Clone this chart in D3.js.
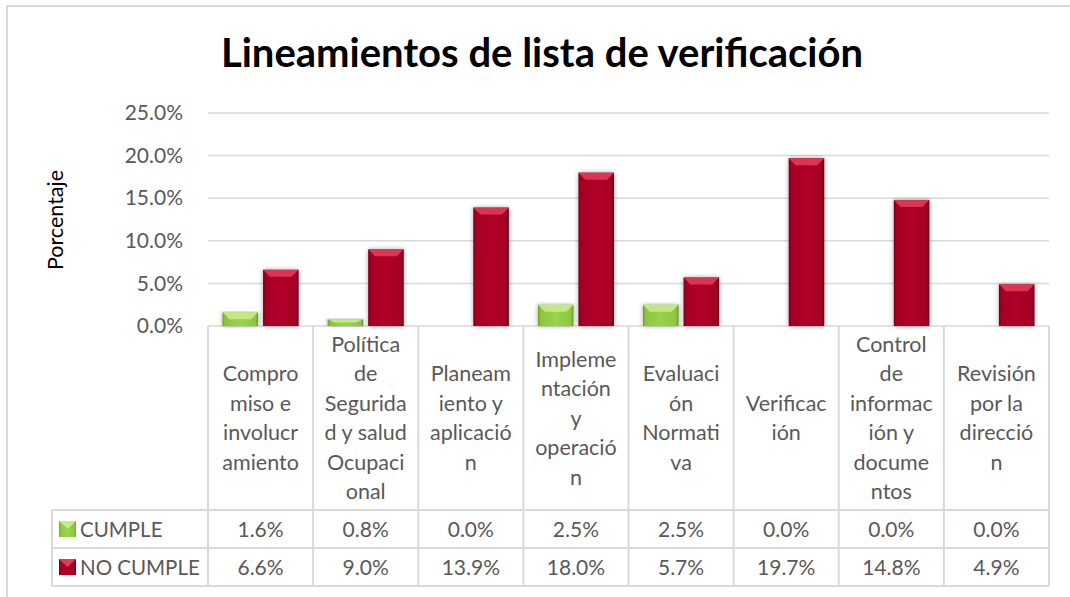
<!DOCTYPE html>
<html><head><meta charset="utf-8">
<script src="https://cdn.jsdelivr.net/npm/d3@7"></script>
<style>
body{margin:0;background:#fff;}
svg{display:block;font-family:Lato,"Open Sans",sans-serif;}
</style></head>
<body><svg id="chart" width="1070" height="597"></svg>
<script>
const categories = [
  ["Compro","miso e","involucr","amiento"],
  ["Política","de","Segurida","d y salud","Ocupaci","onal"],
  ["Planeam","iento y","aplicació","n"],
  ["Impleme","ntación","y","operació","n"],
  ["Evaluaci","ón","Normati","va"],
  ["Verificac","ión"],
  ["Control","de","informac","ión y","docume","ntos"],
  ["Revisión","por la","direcció","n"]
];
const seriesNames = ["CUMPLE","NO CUMPLE"];
const cumple   = [1.6, 0.8, 0.0, 2.5, 2.5, 0.0, 0.0, 0.0];
const noCumple = [6.6, 9.0, 13.9, 18.0, 5.7, 19.7, 14.8, 4.9];
const yTicks = [0, 5, 10, 15, 20, 25];
const title = "Lineamientos de lista de verificación";
const yTitle = "Porcentaje";

(function(){
const svg = d3.select("#chart");
const pLeft = 208, pRight = 1049, pTop = 113, pBottom = 326;
const legendLeft = 52;
const row1 = 510, row2 = 548, row3 = 586;
const textColor = "#595959";

svg.append("rect").attr("x",7).attr("y",6).attr("width",1080).attr("height",620)
  .attr("fill","#fff").attr("stroke","#D9D9D9").attr("stroke-width",2);

const defs = svg.append("defs");
function hGrad(id, stops){
  const g = defs.append("linearGradient").attr("id",id).attr("x1","0").attr("x2","1").attr("y1","0").attr("y2","0");
  stops.forEach(s=>g.append("stop").attr("offset",s[0]).attr("stop-color",s[1]));
}
hGrad("gRed",[[0,"#6e0016"],[0.07,"#a30024"],[0.5,"#b2002a"],[0.93,"#a30024"],[1,"#640014"]]);
hGrad("gGreen",[[0,"#6a9a2a"],[0.07,"#8cc63f"],[0.5,"#9ad34e"],[0.93,"#8cc63f"],[1,"#66962a"]]);
const flt = defs.append("filter").attr("id","sh").attr("x","-30%").attr("y","-10%").attr("width","160%").attr("height","120%");
flt.append("feGaussianBlur").attr("in","SourceAlpha").attr("stdDeviation",2.5).attr("result","b");
flt.append("feComponentTransfer").attr("in","b").attr("result","o2").append("feFuncA").attr("type","linear").attr("slope",0.35);
const fm = flt.append("feMerge"); fm.append("feMergeNode").attr("in","o2"); fm.append("feMergeNode").attr("in","SourceGraphic");

svg.append("text").attr("x",542).attr("y",67).attr("text-anchor","middle")
  .attr("font-size",40).attr("font-weight","bold").attr("fill","#000").text(title);

const x0 = d3.scaleBand().domain(d3.range(categories.length)).range([pLeft,pRight]).paddingInner(0).paddingOuter(0);
const x1 = d3.scaleBand().domain(seriesNames).range([0,x0.bandwidth()]).paddingInner(0.1235).paddingOuter(0.358);
const y = d3.scaleLinear().domain([0,25]).range([pBottom,pTop]);

svg.append("g").selectAll("line").data(yTicks).join("line")
  .attr("x1",pLeft).attr("x2",pRight).attr("y1",d=>y(d)).attr("y2",d=>y(d))
  .attr("stroke","#D9D9D9").attr("stroke-width",1.5);

const yAxis = d3.axisLeft(y).tickValues(yTicks).tickFormat(d=>d.toFixed(1)+"%").tickSize(0).tickPadding(25);
const ya = svg.append("g").attr("transform",`translate(${pLeft},0)`).call(yAxis);
ya.select(".domain").remove();
ya.selectAll("text").attr("font-size",21).attr("fill",textColor).attr("font-family","Lato,'Open Sans',sans-serif");

svg.append("text").attr("transform",`translate(63,220) rotate(-90)`)
  .attr("text-anchor","middle").attr("font-size",21.5).attr("fill","#000").text(yTitle);

const seriesData = [cumple, noCumple];
const fills = ["url(#gGreen)","url(#gRed)"];
const tops = ["#c6ec8a","#e23a58"];
seriesData.forEach((vals,si)=>{
  const g = svg.append("g");
  vals.forEach((v,i)=>{
    if(v<=0) return;
    const bx = x0(i)+x1(seriesNames[si]);
    const bw = x1.bandwidth();
    const by = y(v), bh = y(0)-y(v);
    g.append("rect").attr("x",bx).attr("y",by).attr("width",bw).attr("height",bh)
      .attr("fill",fills[si]).attr("filter","url(#sh)");
    const bev = Math.min(7, bh/2);
    g.append("path").attr("d",`M${bx},${by}L${bx+bw},${by}L${bx+bw-7},${by+bev}L${bx+7},${by+bev}Z`)
      .attr("fill",tops[si]).attr("opacity",0.9);
  });
});

const tg = svg.append("g");
const lineC = "#D9D9D9";
const vx = d3.range(categories.length+1).map(i=> i<categories.length ? x0(i) : pRight);
vx.forEach(xx=>{
  tg.append("line").attr("x1",xx).attr("x2",xx).attr("y1",pBottom).attr("y2",row3)
    .attr("stroke",lineC).attr("stroke-width",2);
});
tg.append("line").attr("x1",legendLeft).attr("x2",legendLeft).attr("y1",row1).attr("y2",row3).attr("stroke",lineC).attr("stroke-width",2);
[row1,row2,row3].forEach(ry=>{
  tg.append("line").attr("x1",legendLeft).attr("x2",pRight).attr("y1",ry).attr("y2",ry).attr("stroke",lineC).attr("stroke-width",2);
});

const lh = 29.5;
categories.forEach((lines,i)=>{
  const cx = x0(i)+x0.bandwidth()/2;
  const cy = (pBottom+row1)/2;
  const n = lines.length;
  const t = tg.append("text").attr("text-anchor","middle").attr("font-size",21.5).attr("fill",textColor);
  lines.forEach((ln,k)=>{
    t.append("tspan").attr("x",cx).attr("y",cy + (k-(n-1)/2)*lh + 7.5).text(ln);
  });
});

[[cumple,row1,row2],[noCumple,row2,row3]].forEach(([vals,r0,r1],si)=>{
  vals.forEach((v,i)=>{
    tg.append("text").attr("x",x0(i)+x0.bandwidth()/2).attr("y",(r0+r1)/2+7.5)
      .attr("text-anchor","middle").attr("font-size",21).attr("fill",textColor).text(v.toFixed(1)+"%");
  });
  const cy=(r0+r1)/2;
  tg.append("rect").attr("x",59).attr("y",cy-8).attr("width",17).attr("height",16).attr("fill",fills[si]);
  tg.append("path").attr("d",`M59,${cy-8}L76,${cy-8}L67.5,${cy}Z`).attr("fill",tops[si]);
  tg.append("text").attr("x",80).attr("y",cy+7.5).attr("font-size",20.5).attr("fill",textColor).text(seriesNames[si]);
});
})();
</script>
</body></html>
